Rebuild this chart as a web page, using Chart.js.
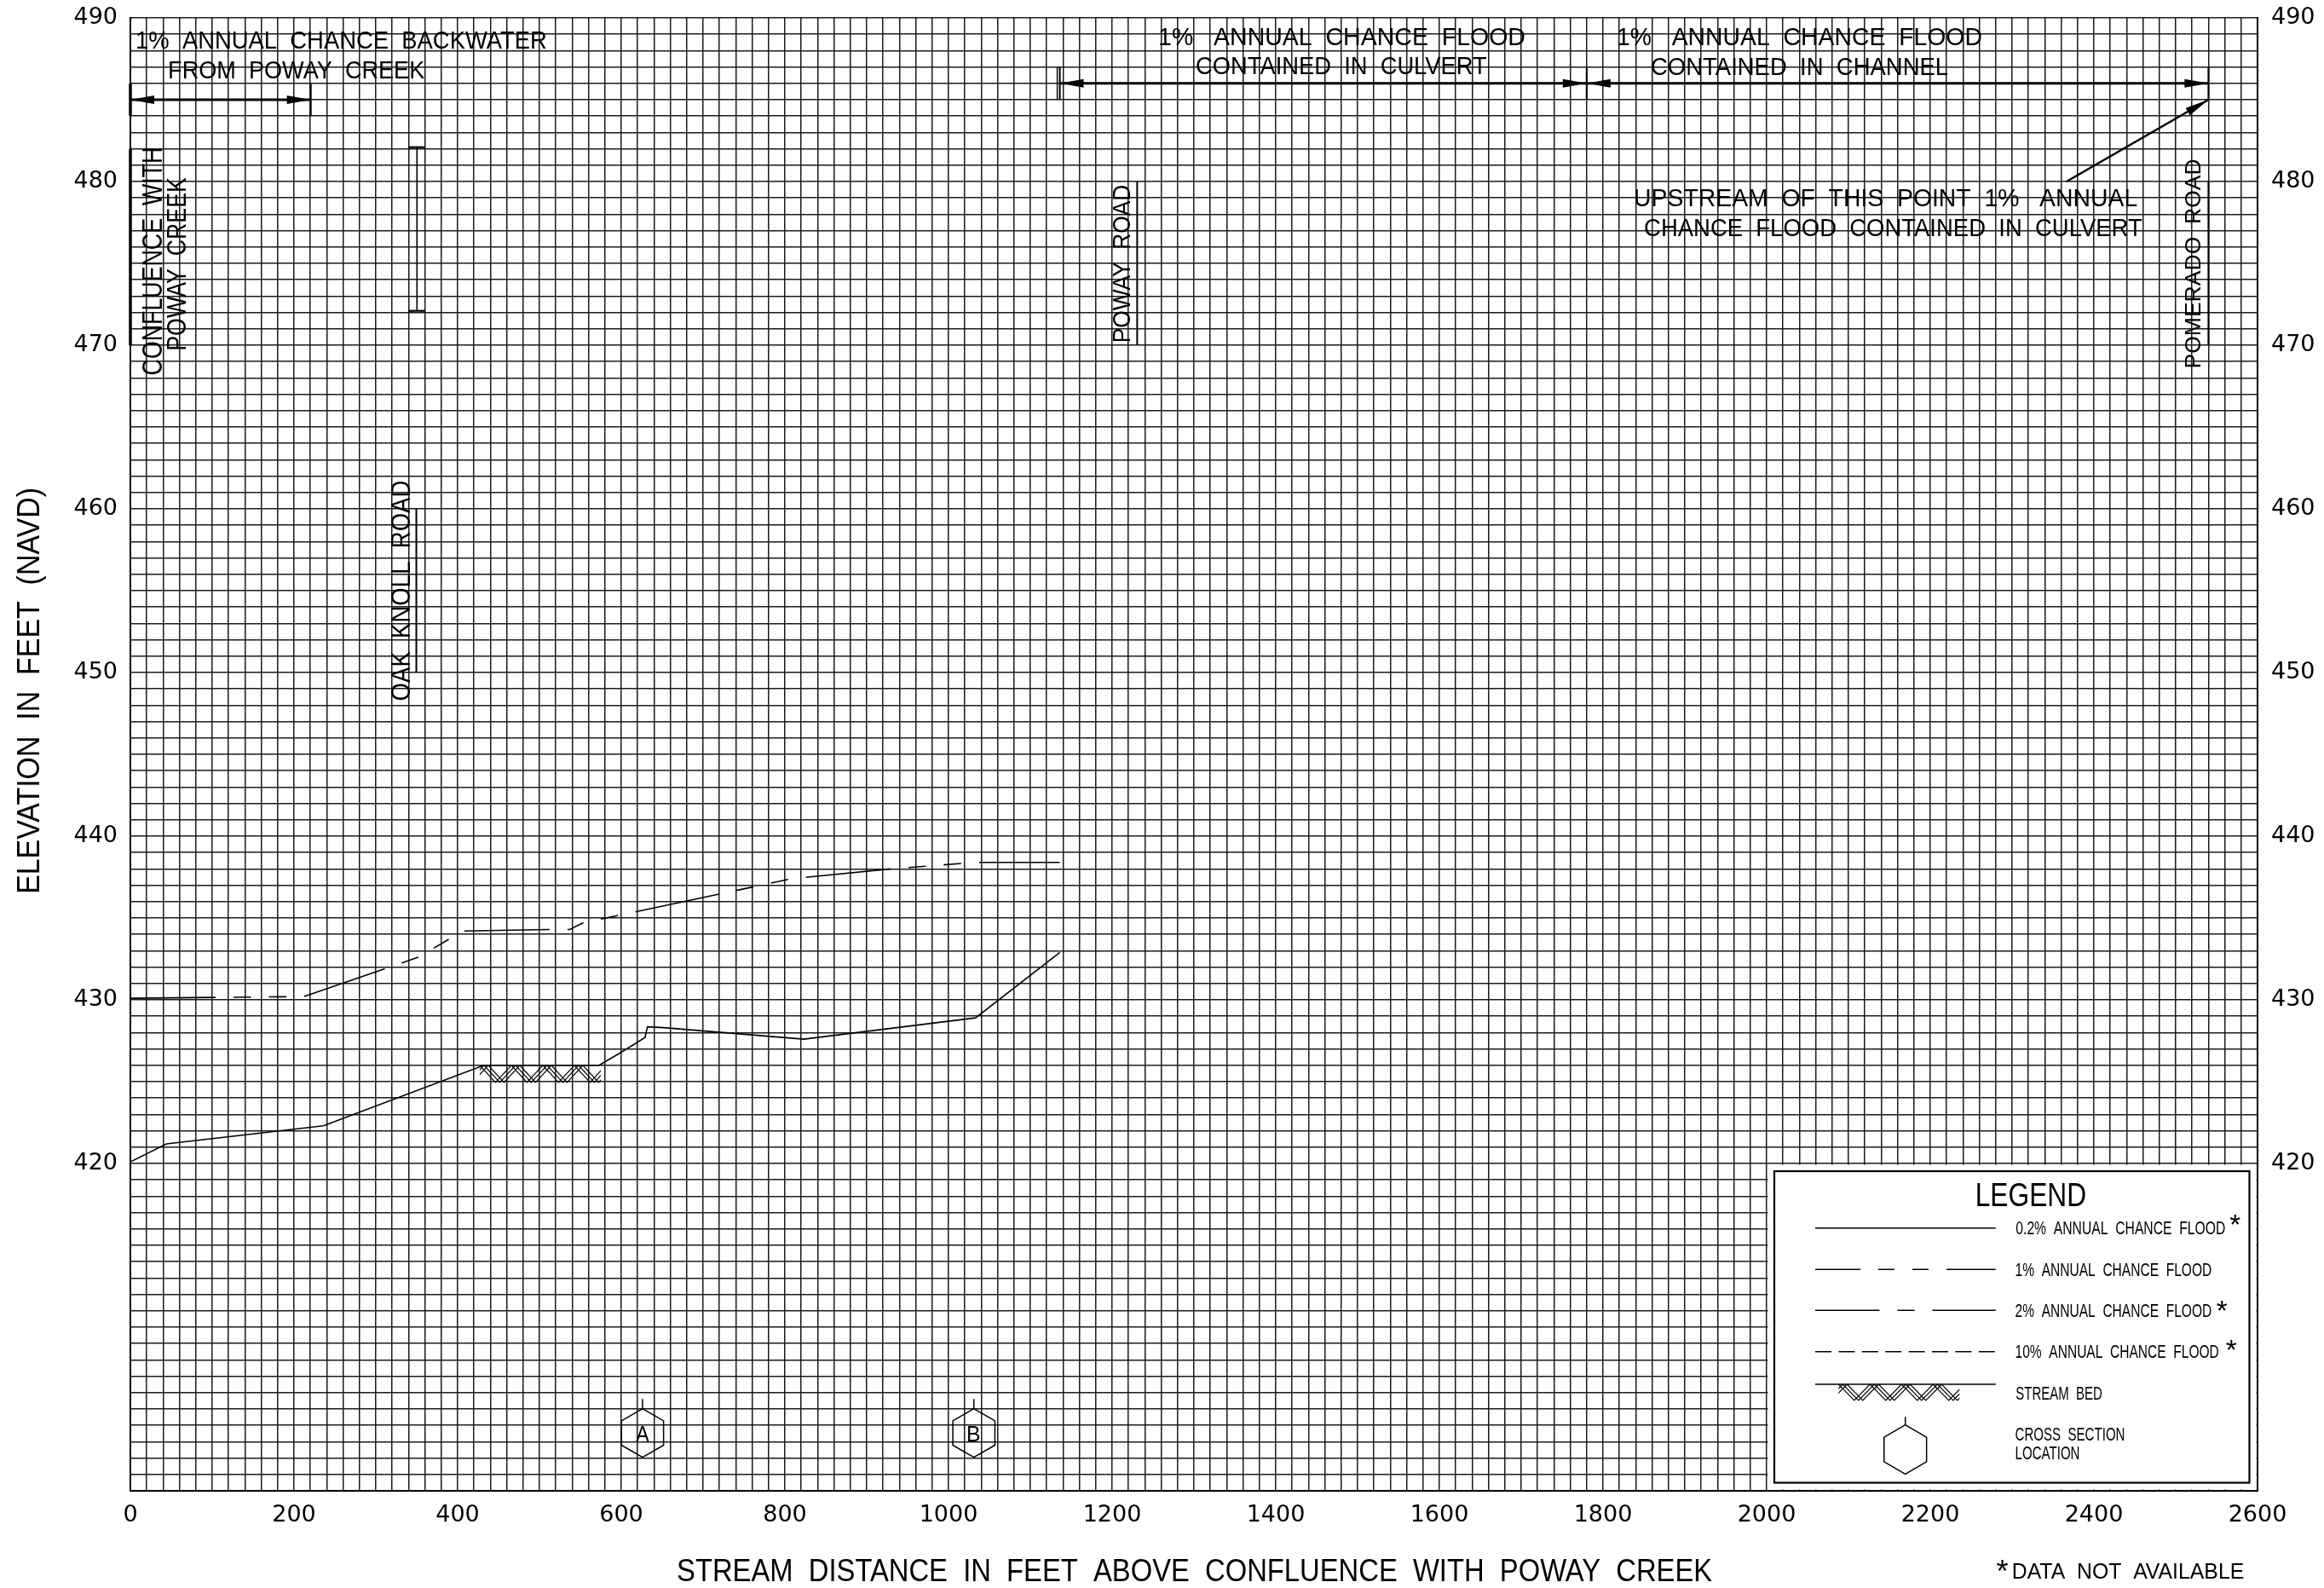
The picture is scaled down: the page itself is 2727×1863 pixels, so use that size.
<!DOCTYPE html>
<html>
<head>
<meta charset="utf-8">
<title>Flood Profile</title>
<script src="https://cdn.jsdelivr.net/npm/chart.js@4.4.1/dist/chart.umd.min.js"></script>
<style>
html,body{margin:0;padding:0;background:#fff;overflow:hidden;}
canvas{display:block;}
</style>
</head>
<body>
<canvas id="profile" width="2727" height="1863"></canvas>
<script>
// ---------------- DATA ----------------
const xTickLabels = [0, 200, 400, 600, 800, 1000, 1200, 1400, 1600, 1800, 2000, 2200, 2400, 2600];
const yTickLabels = [420, 430, 440, 450, 460, 470, 480, 490];

// Stream bed profile (distance ft, elevation ft NAVD)
const streamBedDistance  = [0, 44, 236, 432, 573, 600, 629, 632, 652, 823, 1033, 1136];
const streamBedElevation = [420.1, 421.2, 422.3, 426.0, 426.0, 426.8, 427.7, 428.35, 428.3, 427.6, 428.9, 432.9];

// 1% annual chance flood profile
const flood1Distance  = [0, 212, 352, 406, 510, 537, 553, 808, 929, 1033, 1136];
const flood1Elevation = [430.1, 430.2, 432.6, 434.2, 434.3, 434.3, 434.7, 437.4, 438.0, 438.4, 438.4];

// Cross sections
const crossSectionLetters  = ['A', 'B'];
const crossSectionDistance = [626, 1031];

// Stream bed hatch extent (ft) and elevation
const hatchDistance = [427, 575];
const hatchElevation = 426.0;

// Legend labels
const legendTitle = 'LEGEND';
const legendLabels = ['0.2%  ANNUAL  CHANCE  FLOOD', '1%  ANNUAL  CHANCE  FLOOD', '2%  ANNUAL  CHANCE  FLOOD', '10%  ANNUAL  CHANCE  FLOOD', 'STREAM  BED'];
const legendNotAvailable = [true, false, true, true, false];
const legendCrossSection = ['CROSS  SECTION', 'LOCATION'];

// Annotation texts
const noteTexts = ['1%  ANNUAL  CHANCE  BACKWATER', 'FROM  POWAY  CREEK',
  '1%   ANNUAL  CHANCE  FLOOD', 'CONTAINED  IN  CULVERT',
  '1%   ANNUAL  CHANCE  FLOOD', 'CONTAINED  IN  CHANNEL',
  'UPSTREAM  OF  THIS  POINT  1%   ANNUAL', 'CHANCE  FLOOD  CONTAINED  IN  CULVERT'];
const noteDistance  = [258.3, 203.6, 1481.3, 1480.7, 2040.6, 2040.6, 2146.4, 2155.2];
const noteElevation = [488.65, 486.84, 488.85, 487.06, 488.85, 487.03, 479.0, 477.2];

const roadLabels = ['CONFLUENCE  WITH', 'POWAY  CREEK', 'OAK  KNOLL  ROAD', 'POWAY  ROAD', 'POMERADO  ROAD'];
const roadLabelDistance  = [26.6, 56.3, 330.7, 1211.5, 2520.3];
const roadLabelElevation = [475.1, 475.0, 455.0, 475.0, 475.0];

// Road / structure lines: distance, bottom elev, top elev
const roadLineDistance = [0, 349.5, 1230.6, 2540];
const roadLineBottom   = [470, 450, 470, 470];
const roadLineTop      = [482, 460, 480, 480];

// Bridge (Oak Knoll)
const bridgeDistance = 350.3;
const bridgeElevation = [472.1, 482.1];

// Dimension arrows
const backwaterReach = [0, 220.5];     // at elevation 485
const backwaterArrowElev = 485;
const culvertReach = [1136, 1780];     // at elevation 486
const channelReach = [1780, 2540];
const upperArrowElev = 486;
const leaderFrom = [2366.5, 480.0];
const leaderTo   = [2540, 485.0];

const xTitle = 'STREAM  DISTANCE  IN  FEET  ABOVE  CONFLUENCE  WITH  POWAY  CREEK';
const yTitle = 'ELEVATION  IN  FEET  (NAVD)';
const footnote = 'DATA  NOT  AVAILABLE';

// ---------------- STYLE / LAYOUT ----------------
const CAD = '"Liberation Sans Narrow", "Liberation Sans", Arial, sans-serif';
const SANS = '"Liberation Sans", Arial, sans-serif';
const noteWidth = [480, 299, 428, 341, 426, 348, 589, 584];
const noteCap = 20;
const roadLen = [265, 202, 257, 183, 243];
const roadThick = [22.3, 21.5, 21, 20, 18.3];
const flood1Dash = [100, 21, 20.5, 21, 20.5, 21];

const capCache = {};
function capRatio(ctx, fam) {
  if (!(fam in capCache)) {
    ctx.save(); ctx.font = '100px ' + fam;
    capCache[fam] = ctx.measureText('H').actualBoundingBoxAscent / 100;
    ctx.restore();
  }
  return capCache[fam];
}
function fitText(ctx, text, cx, cy, w, cap, fam, rot) {
  ctx.save();
  const size = cap / capRatio(ctx, fam);
  ctx.font = size + 'px ' + fam;
  ctx.textAlign = 'left';
  ctx.textBaseline = 'alphabetic';
  const m = ctx.measureText(text);
  const inkW = m.actualBoundingBoxLeft + m.actualBoundingBoxRight;
  ctx.translate(cx, cy);
  if (rot) ctx.rotate(-Math.PI / 2);
  ctx.scale(w / inkW, 1);
  ctx.fillStyle = '#000';
  ctx.fillText(text, -inkW / 2 + m.actualBoundingBoxLeft, cap / 2);
  ctx.restore();
}
function inkText(ctx, text, cx, cy, h, fam) {
  ctx.save();
  ctx.font = '100px ' + fam;
  let m = ctx.measureText(text);
  const size = 100 * h / (m.actualBoundingBoxAscent + m.actualBoundingBoxDescent);
  ctx.font = size + 'px ' + fam;
  m = ctx.measureText(text);
  const inkW = m.actualBoundingBoxLeft + m.actualBoundingBoxRight;
  ctx.textAlign = 'left'; ctx.textBaseline = 'alphabetic';
  ctx.fillStyle = '#000';
  ctx.fillText(text, cx - inkW / 2 + m.actualBoundingBoxLeft, cy + (m.actualBoundingBoxAscent - m.actualBoundingBoxDescent) / 2);
  ctx.restore();
}
function line(ctx, x0, y0, x1, y1, w) {
  ctx.save(); ctx.lineWidth = w || 1.5; ctx.strokeStyle = '#000';
  ctx.beginPath(); ctx.moveTo(x0, y0); ctx.lineTo(x1, y1); ctx.stroke(); ctx.restore();
}
function arrowHead(ctx, tx, ty, fx, fy, len, hw) {
  const a = Math.atan2(ty - fy, tx - fx);
  ctx.save(); ctx.fillStyle = '#000';
  ctx.beginPath();
  ctx.moveTo(tx, ty);
  ctx.lineTo(tx - len * Math.cos(a) + hw * Math.sin(a), ty - len * Math.sin(a) - hw * Math.cos(a));
  ctx.lineTo(tx - len * Math.cos(a) - hw * Math.sin(a), ty - len * Math.sin(a) + hw * Math.cos(a));
  ctx.closePath(); ctx.fill(); ctx.restore();
}
function dimArrow(ctx, x0, x1, yy) {
  line(ctx, x0, yy, x1, yy, 3);
  arrowHead(ctx, x0, yy, x1, yy, 28, 5);
  arrowHead(ctx, x1, yy, x0, yy, 28, 5);
}
function hexagon(ctx, cx, cy, r, stem) {
  ctx.save(); ctx.strokeStyle = '#000'; ctx.lineWidth = 1.5;
  ctx.beginPath();
  for (let i = 0; i < 6; i++) {
    const a = -Math.PI / 2 + i * Math.PI / 3;
    const px = cx + r * Math.cos(a), py = cy + r * Math.sin(a);
    if (i === 0) ctx.moveTo(px, py); else ctx.lineTo(px, py);
  }
  ctx.closePath(); ctx.stroke();
  ctx.beginPath(); ctx.moveTo(cx, cy - r); ctx.lineTo(cx, cy - r - stem); ctx.stroke();
  ctx.restore();
}
function hatch(ctx, x0, x1, yTop, depth) {
  ctx.save();
  ctx.beginPath(); ctx.rect(x0, yTop, x1 - x0, depth + 1); ctx.clip();
  ctx.strokeStyle = '#000'; ctx.lineWidth = 1.2;
  const period = 37, half = period / 2, g = 5;
  for (let k = 0; k < 3; k++) {
    ctx.beginPath();
    let first = true;
    for (let p = x0 - period; p < x1 + period; p += period) {
      const px = p + k * g;
      if (first) { ctx.moveTo(px, yTop); first = false; } else ctx.lineTo(px, yTop);
      ctx.lineTo(px + half, yTop + depth);
    }
    ctx.stroke();
  }
  ctx.restore();
}

const profilePlugin = {
  id: 'profileNotes',
  beforeDatasetsDraw(chart) {
    const { ctx, chartArea, scales: { x, y } } = chart;
    const L = x.getPixelForValue(2000), T = y.getPixelForValue(420);
    ctx.save(); ctx.fillStyle = '#fff';
    ctx.fillRect(L + 1.5, T + 1.5, chartArea.right - L - 3, chartArea.bottom - T - 3);
    ctx.restore();
  },
  afterDatasetsDraw(chart) {
    const { ctx, chartArea, scales: { x, y } } = chart;
    const X = v => x.getPixelForValue(v), Y = v => y.getPixelForValue(v);

    // stream bed hatch
    hatch(ctx, X(hatchDistance[0]), X(hatchDistance[1]), Y(hatchElevation), 20);

    // notes
    noteTexts.forEach((t, i) => fitText(ctx, t, X(noteDistance[i]), Y(noteElevation[i]), noteWidth[i], noteCap, CAD, false));
    // vertical road labels
    roadLabels.forEach((t, i) => fitText(ctx, t, X(roadLabelDistance[i]), Y(roadLabelElevation[i]), roadLen[i], roadThick[i], SANS, true));
    // road lines
    roadLineDistance.forEach((d, i) => line(ctx, X(d), Y(roadLineBottom[i]), X(d), Y(roadLineTop[i]), i === 0 ? 3.5 : 2));
    // bridge
    line(ctx, X(bridgeDistance), Y(bridgeElevation[0]), X(bridgeDistance), Y(bridgeElevation[1]), 1.6);
    line(ctx, X(bridgeDistance - 10), Y(bridgeElevation[0]), X(bridgeDistance + 10), Y(bridgeElevation[0]), 2.2);
    line(ctx, X(bridgeDistance - 10), Y(bridgeElevation[1]), X(bridgeDistance + 10), Y(bridgeElevation[1]), 2.2);

    // backwater arrow
    dimArrow(ctx, X(backwaterReach[0]), X(backwaterReach[1]), Y(backwaterArrowElev));
    backwaterReach.forEach(d => line(ctx, X(d), Y(backwaterArrowElev - 1), X(d), Y(backwaterArrowElev + 1), d === 0 ? 3.5 : 2));
    // culvert / channel arrows
    dimArrow(ctx, X(culvertReach[0]), X(culvertReach[1]), Y(upperArrowElev));
    dimArrow(ctx, X(channelReach[0]), X(channelReach[1]), Y(upperArrowElev));
    [culvertReach[0], culvertReach[1], channelReach[1]].forEach(d =>
      line(ctx, X(d), Y(upperArrowElev - 1), X(d), Y(upperArrowElev + 1), 2));
    line(ctx, X(culvertReach[0]) - 3, Y(upperArrowElev - 1), X(culvertReach[0]) - 3, Y(upperArrowElev + 1), 1.4);
    // leader arrow
    line(ctx, X(leaderFrom[0]), Y(leaderFrom[1]), X(leaderTo[0]), Y(leaderTo[1]), 2.5);
    arrowHead(ctx, X(leaderTo[0]), Y(leaderTo[1]), X(leaderFrom[0]), Y(leaderFrom[1]), 28, 5);

    // cross section markers
    crossSectionLetters.forEach((c, i) => {
      const cx = X(crossSectionDistance[i]), cy = Y(403.53);
      hexagon(ctx, cx, cy, 28.5, 11.5);
      fitText(ctx, c, cx, cy + 1, c === 'A' ? 15.6 : 14, 18.3, SANS, false);
    });

    // legend box
    const L = X(2000), T = Y(420), R = chartArea.right, B = chartArea.bottom;
    ctx.save(); ctx.strokeStyle = '#000'; ctx.lineWidth = 2.2;
    ctx.strokeRect(L + 9, T + 9, R - L - 18.5, B - T - 18.5); ctx.restore();
    fitText(ctx, legendTitle, L + 310.6, T + 36.5, 127, 27, CAD, false);
    const sx0 = L + 57, sx1 = L + 268.8, tl = L + 292.3;
    const rowY = [75.7, 124.3, 172.3, 220.7, 259];
    const dashes = [[], [98, 21, 19, 21, 19, 21], [120, 21, 20, 21], [19, 8.4], []];
    const dashOff = [0, 45, 44.5, 0, 0];
    const textW = [245.5, 229.4, 229.4, 238, 101];
    const starPos = [[549.8, 66], null, [534.3, 166.5], [545.3, 213.3], null];
    legendLabels.forEach((t, i) => {
      const yy = T + rowY[i];
      ctx.save(); ctx.strokeStyle = '#000'; ctx.lineWidth = 1.6;
      ctx.setLineDash(dashes[i]); ctx.lineDashOffset = dashOff[i];
      ctx.beginPath(); ctx.moveTo(sx0, yy); ctx.lineTo(sx1, yy); ctx.stroke(); ctx.restore();
      fitText(ctx, t, tl + textW[i] / 2, yy + (i === 4 ? 10 : 0), textW[i], 15, CAD, false);
      if (legendNotAvailable[i]) inkText(ctx, '*', L + starPos[i][0], T + starPos[i][1], 12, SANS);
    });
    hatch(ctx, L + 84.3, L + 226.3, T + rowY[4], 19);
    hexagon(ctx, L + 162.7, T + 335.5, 28.8, 9.4);
    fitText(ctx, legendCrossSection[0], tl + 127 / 2, T + 317.5, 127, 15, CAD, false);
    fitText(ctx, legendCrossSection[1], tl + 74 / 2, T + 339.2, 74, 15, CAD, false);
  },
  afterDraw(chart) {
    const { ctx } = chart;
    // axis titles
    fitText(ctx, xTitle, 1402, 1842.5, 1214, 25, SANS, false);
    fitText(ctx, yTitle, 33.5, 810.5, 473, 25, SANS, true);
    inkText(ctx, '*', 2349.5, 1836.5, 13, SANS);
    fitText(ctx, footnote, 2497.6, 1842.7, 270, 18.3, SANS, false);
  }
};

const toPoints = (xs, ys) => xs.map((v, i) => ({ x: v, y: ys[i] }));
const tickFont = { family: '"DejaVu Sans", sans-serif', size: 27, weight: 'normal' };
const noVPad = s => { s.paddingTop = 0; s.paddingBottom = 0; };

new Chart(document.getElementById('profile'), {
  type: 'scatter',
  data: {
    datasets: [
      { label: 'STREAM BED', data: toPoints(streamBedDistance, streamBedElevation), showLine: true,
        borderColor: '#000', borderWidth: 1.6, pointRadius: 0, tension: 0, fill: false },
      { label: '1% ANNUAL CHANCE FLOOD', data: toPoints(flood1Distance, flood1Elevation), showLine: true,
        borderColor: '#000', borderWidth: 1.6, borderDash: flood1Dash, pointRadius: 0, tension: 0, fill: false }
    ]
  },
  options: {
    responsive: false, animation: false, devicePixelRatio: 1, events: [],
    layout: { padding: { top: 21, left: 0, right: 0, bottom: 0 } },
    plugins: { legend: { display: false }, tooltip: { enabled: false }, title: { display: false } },
    scales: {
      x: {
        type: 'linear', position: 'bottom', min: 0, max: 2600,
        ticks: { stepSize: 20, autoSkip: false, maxRotation: 0, minRotation: 0, padding: 13, color: '#000', font: tickFont,
          callback: v => { const r = Math.round(v); return xTickLabels.includes(r) ? String(r) : ''; } },
        grid: { color: '#1a1a1a', lineWidth: 1.5, drawTicks: false },
        border: { color: '#000', width: 2 },
        afterFit(s) { s.height = 114; }
      },
      y: {
        type: 'linear', position: 'left', min: 400, max: 490,
        ticks: { stepSize: 1, autoSkip: false, padding: 15, color: '#000', font: tickFont,
          callback: v => { const r = Math.round(v); return yTickLabels.includes(r) ? String(r) : ''; } },
        grid: { color: '#1a1a1a', lineWidth: 1.5, drawTicks: false },
        border: { color: '#000', width: 2 },
        afterFit(s) { s.width = 153; noVPad(s); }
      },
      y2: {
        type: 'linear', axis: 'y', position: 'right', min: 400, max: 490,
        ticks: { stepSize: 1, autoSkip: false, padding: 16, color: '#000', font: tickFont,
          callback: v => { const r = Math.round(v); return yTickLabels.includes(r) ? String(r) : ''; } },
        grid: { display: false, drawTicks: false },
        border: { color: '#000', width: 2 },
        afterFit(s) { s.width = 78; noVPad(s); }
      }
    }
  },
  plugins: [profilePlugin]
});
</script>
</body>
</html>
